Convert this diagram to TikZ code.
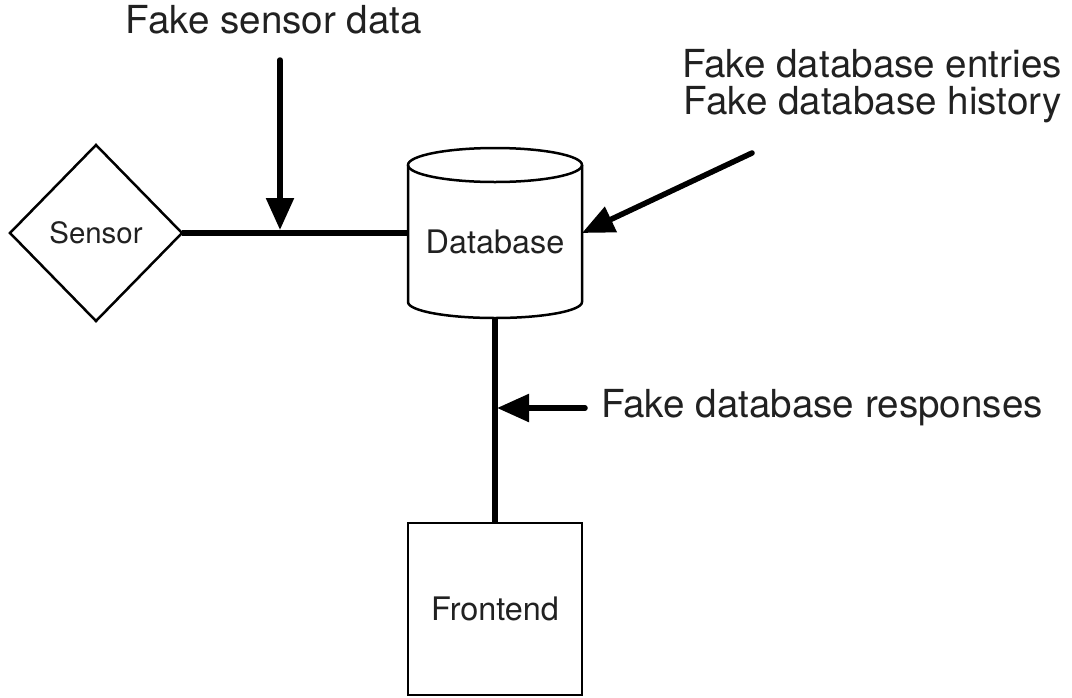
\documentclass[tikz,border=0pt]{standalone}
\usepackage{fontspec}
\setmainfont{TeX Gyre Heros}
\usetikzlibrary{arrows.meta,positioning,shapes.geometric}

\begin{document}
\begin{tikzpicture}[x=1pt,y=-1pt,>={Triangle[length=32pt,width=27pt]},
    shape line/.style={draw,line width=2.5pt,outer sep=0pt},
    link/.style={line width=6pt},
    feed/.style={->,line width=5.5pt,line cap=round},
    big label/.style={font=\fontsize{38.6}{46}\selectfont,inner sep=0pt,text=black!87},
    box label/.style={font=\fontsize{32.4}{38}\selectfont,inner sep=0pt,text=black!87}]
    \fill[white] (0,0) rectangle (1072,697);
    \useasboundingbox (0,0) rectangle (1072,697);

    % main blocks
    \node[outer sep=0pt,minimum width=174pt,minimum height=170pt] (db) at (495,233) {};
    \node[shape line,diamond,aspect=1,minimum width=172pt,minimum height=176pt,
        font=\fontsize{29.4}{35}\selectfont,text=black!87,inner sep=0pt]
        (sensor) [left=226pt of db] {Sensor};
    \node[shape line,rectangle,minimum width=174pt,minimum height=172pt,box label]
        (front) [below=205pt of db] {Frontend};

    % the database drum
    \draw[line width=2.5pt] ([yshift=-17pt]db.north) ellipse [x radius=87pt,y radius=17pt];
    \draw[line width=2.5pt] ([yshift=-17pt]db.north west) -- ([yshift=16pt]db.south west)
        arc[start angle=180,end angle=360,x radius=87pt,y radius=16pt]
        -- ([yshift=-17pt]db.north east);
    \node[box label] (dblabel) at ([yshift=-9pt]db.center) {Database};

    % wires
    \path[link]
        (sensor.east) edge (db.west)
        (db.south) edge (front.north);

    % injected fakes
    \node[big label,anchor=base] (sdlabel) at (274,33) {Fake sensor data};
    \node[big label,anchor=base east] (entlabel) at (1062,77) {Fake database entries};
    \node[big label,anchor=base east] (histlabel) at (1062,114) {Fake database history};
    \node[big label,anchor=base west] (resplabel) at (601,417) {Fake database responses};

    \coordinate (tapfrom) at (280,60);
    \coordinate (tap) at (280,230);
    \coordinate (entfrom) at (752,153);
    \coordinate (respfrom) at (585,408);
    \coordinate (resptap) at (497,408);

    \draw[feed] (tapfrom) -- (tap);
    \draw[feed] (entfrom) -- (db.east);
    \draw[feed] (respfrom) -- (resptap);
\end{tikzpicture}
\end{document}
